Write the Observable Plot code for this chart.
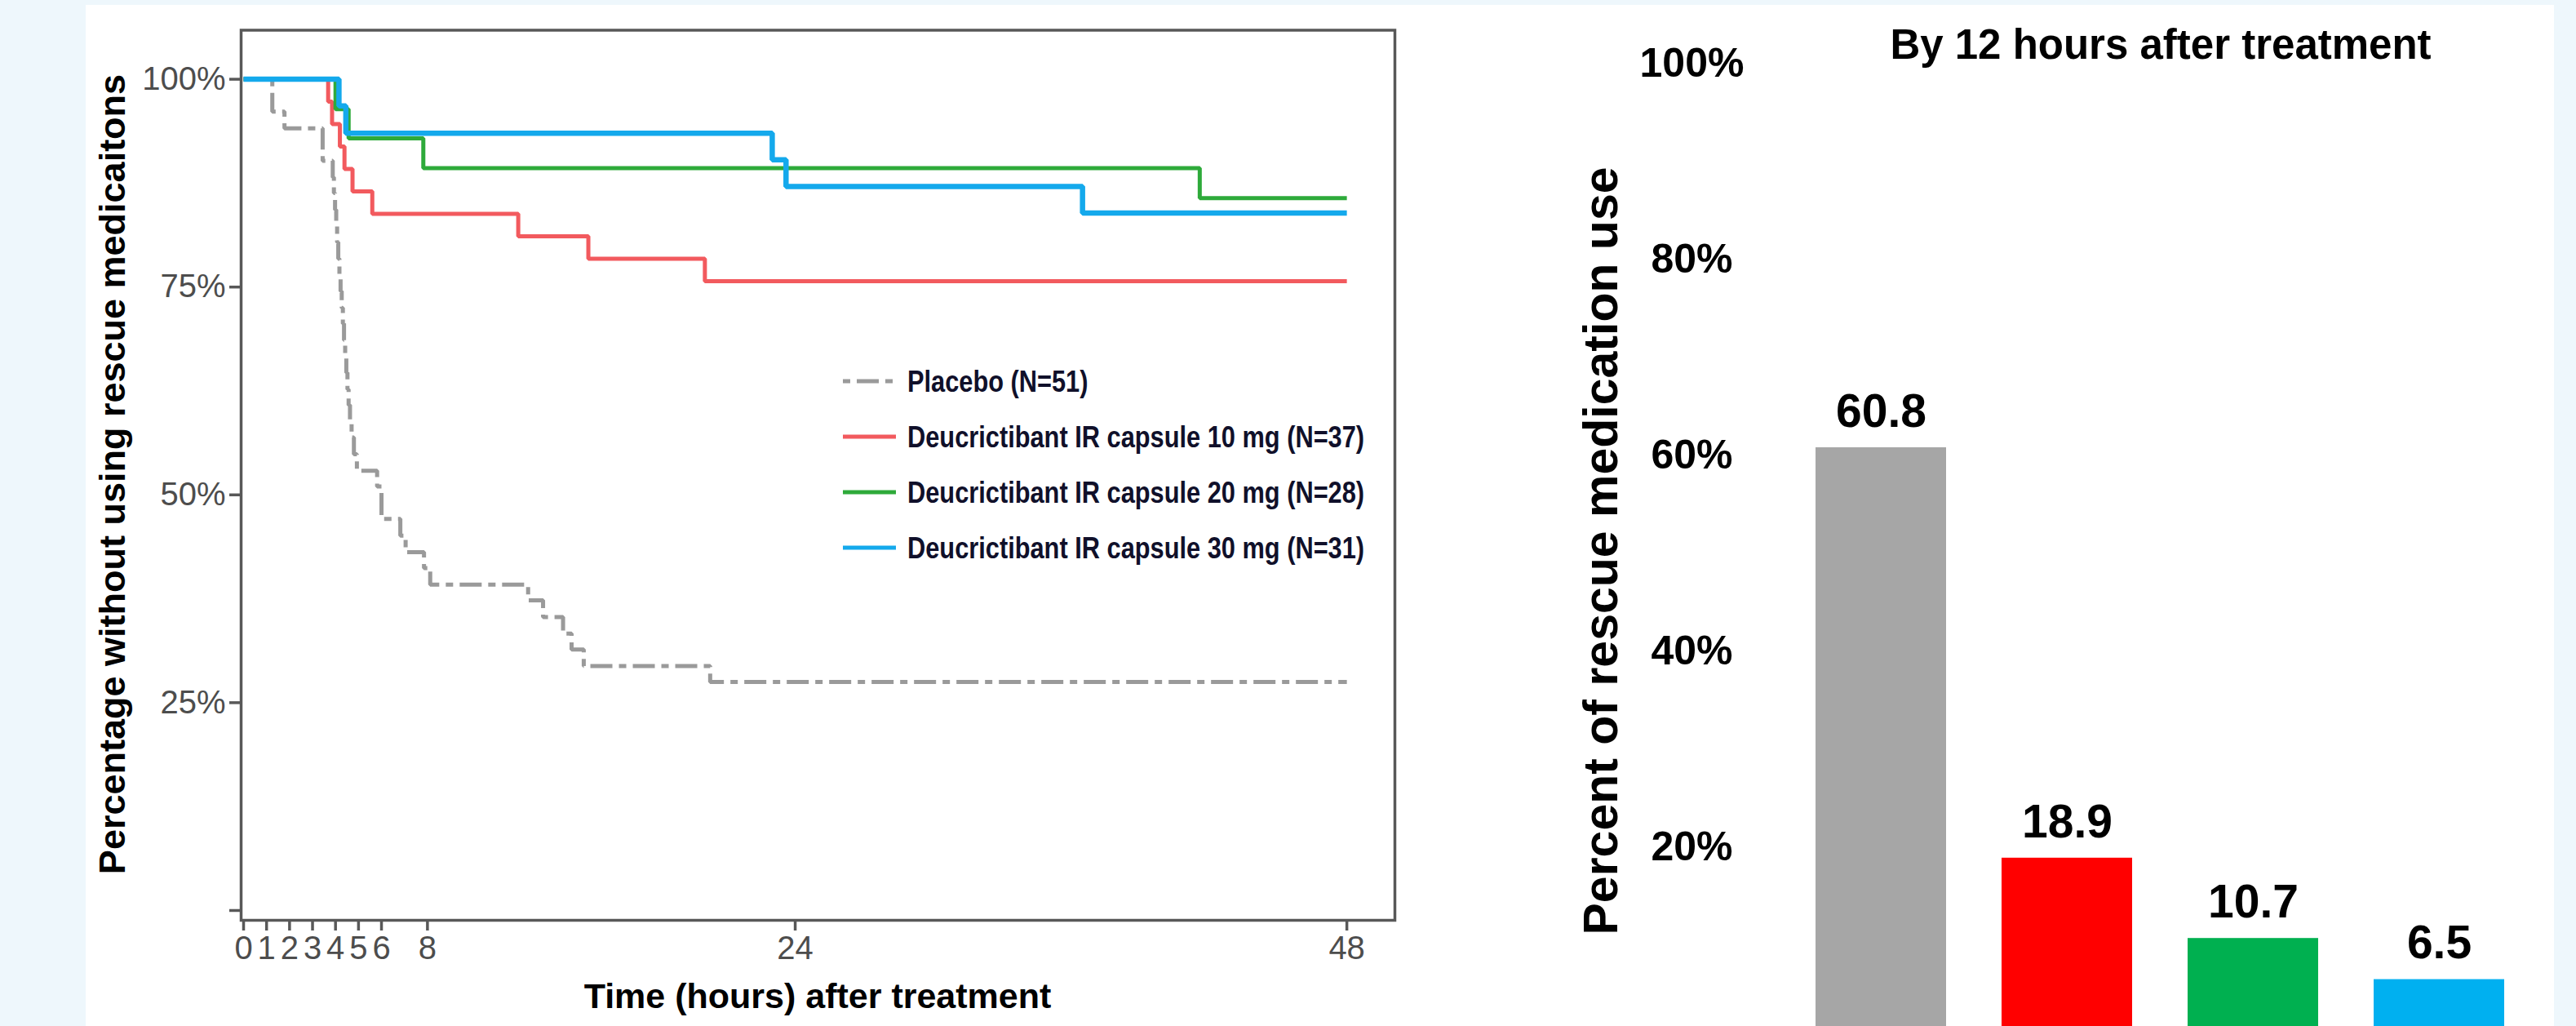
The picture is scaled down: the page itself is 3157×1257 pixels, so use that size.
<!DOCTYPE html>
<html><head><meta charset="utf-8">
<script src="https://cdn.jsdelivr.net/npm/d3@7"></script>
<script src="https://cdn.jsdelivr.net/npm/@observablehq/plot@0.6"></script>
<style>
html,body{margin:0;padding:0;overflow:hidden;background:#eef7fc;}
#page{position:relative;width:3157px;height:1257px;overflow:hidden;background:#eef7fc;}
#panel{position:absolute;left:105px;top:6px;width:3025px;height:1251px;background:#ffffff;}
.abs{position:absolute;left:0;top:0;}
svg text{font-family:"Liberation Sans",Arial,sans-serif;}
</style></head>
<body>
<div id="page">
  <div id="panel"></div>
  <div id="left" class="abs"></div>
  <div id="right" class="abs" style="left:1800px"></div>
  <svg id="overlay" class="abs" width="3157" height="1257"></svg>
</div>
<script>
// ---------- data: Kaplan-Meier steps (hours, % without rescue medication) ----------
const placeboHours = [0, 1.25, 1.78, 3.44, 3.88, 3.93, 3.98, 4.03, 4.07, 4.12, 4.17, 4.22, 4.27, 4.32, 4.37, 4.42, 4.47, 4.52, 4.57, 4.63, 4.70, 4.80, 4.93, 5.81, 6.00, 6.82, 7.05, 7.85, 8.12, 12.38, 13.03, 13.90, 14.27, 14.80, 20.30, 48];
const placeboPct   = [100, 96.1, 94.1, 90.2, 88.2, 86.3, 84.3, 82.4, 80.4, 78.4, 76.5, 74.5, 72.5, 70.6, 68.6, 66.7, 64.7, 62.7, 60.8, 58.8, 56.9, 54.9, 52.9, 51.0, 47.1, 45.1, 43.1, 41.2, 39.2, 37.3, 35.3, 33.3, 31.4, 29.4, 27.5, 27.5];
const dose10Hours = [0, 3.68, 3.85, 4.19, 4.39, 4.74, 5.60, 11.95, 15.00, 20.07, 48];
const dose10Pct   = [100, 97.3, 94.6, 91.9, 89.2, 86.5, 83.8, 81.1, 78.4, 75.7, 75.7];
const dose20Hours = [0, 4.00, 4.57, 7.82, 41.60, 48];
const dose20Pct   = [100, 96.4, 92.9, 89.3, 85.7, 85.7];
const dose30Hours = [0, 4.15, 4.45, 23.00, 23.60, 36.50, 48];
const dose30Pct   = [100, 96.8, 93.5, 90.3, 87.1, 83.9, 83.9];

const seriesNames = ["Placebo (N=51)", "Deucrictibant IR capsule 10 mg (N=37)", "Deucrictibant IR capsule 20 mg (N=28)", "Deucrictibant IR capsule 30 mg (N=31)"];
const xTickValues = [0, 1, 2, 3, 4, 5, 6, 8, 24, 48];
const yTickValues = [0, 25, 50, 75, 100];

// ---------- data: bar chart (by 12 hours) ----------
const barGroups = ["Placebo", "10 mg", "20 mg", "30 mg"];
const barValues = [60.8, 18.9, 10.7, 6.5];
const barTicks  = [0, 20, 40, 60, 80, 100];

// ---------- styles ----------
const lineColors = ["#9a9a9a", "#f25a5e", "#2eaa3a", "#14a9ec"];
const barColors  = ["#a6a6a6", "#ff0000", "#00b050", "#00b0f0"];
const dash = "27,8,9,8";
const axisGray = "#585858";
const FONT = "Liberation Sans, Arial, sans-serif";

const toRows = (hours, pct) => hours.map((h, i) => ({h, p: pct[i]}));

// ---------- left: KM curves ----------
const W1 = 1760, H1 = 1257;
const lineOpts = (i, w, extra = {}) => ({x: "h", y: "p", curve: "step-after", stroke: lineColors[i], strokeWidth: w, strokeLinejoin: "miter", strokeLinecap: "butt", ...extra});
const left = Plot.plot({
  width: W1, height: H1,
  marginLeft: 295, marginRight: W1 - 1709, marginTop: 36.5, marginBottom: H1 - 1127,
  style: {background: "transparent", fontFamily: FONT, overflow: "visible"},
  x: {domain: [-0.107, 50.09]},
  y: {domain: [-1.18, 105.9]},
  marks: [
    Plot.line(toRows(placeboHours, placeboPct), lineOpts(0, 5, {strokeDasharray: dash})),
    Plot.line(toRows(dose10Hours, dose10Pct), lineOpts(1, 5)),
    Plot.line(toRows(dose20Hours, dose20Pct), lineOpts(2, 5)),
    Plot.line(toRows(dose30Hours, dose30Pct), lineOpts(3, 6.5)),
    Plot.frame({stroke: axisGray, strokeWidth: 3.5}),
    Plot.axisY(yTickValues, {tickSize: 14, tickPadding: 5, tickFormat: d => d === 0 ? "" : d + "%", fontSize: 40, fill: "#4d4d4d", stroke: axisGray, strokeWidth: 3.5, label: null}),
    Plot.axisX(xTickValues, {tickSize: 13, tickPadding: 5.6, tickFormat: d => String(d), fontSize: 40, fill: "#4d4d4d", stroke: axisGray, strokeWidth: 3.5, label: null})
  ]
});
document.getElementById("left").appendChild(left);

// ---------- right: bars ----------
const W2 = 1357, H2 = 1300;
const barData = barGroups.map((g, i) => ({g, v: barValues[i]}));
const right = Plot.plot({
  width: W2, height: H2,
  marginLeft: 355.3, marginRight: 18.3, marginTop: 77.6, marginBottom: 22.4,
  style: {background: "transparent", fontFamily: FONT, overflow: "visible"},
  x: {domain: barGroups, padding: 0.3, axis: null},
  y: {domain: [0, 100]},
  color: {domain: barGroups, range: barColors},
  marks: [
    Plot.barY(barData, {x: "g", y: "v", fill: "g"}),
    Plot.text(barData, {x: "g", y: "v", text: d => d.v.toFixed(1), dy: -44, fontSize: 57, fontWeight: "bold", fill: "#000"}),
    Plot.axisY(barTicks, {tickSize: 0, tickPadding: 82.3, textAnchor: "middle", tickFormat: d => d + "%", fontSize: 50, fontWeight: "bold", fill: "#000", label: null})
  ]
});
document.getElementById("right").appendChild(right);

// ---------- overlay: titles and legend ----------
const ov = d3.select("#overlay");
ov.append("text").attr("transform", "translate(153,581) rotate(-90)").attr("text-anchor", "middle")
  .attr("font-size", 45).attr("font-weight", "bold").attr("fill", "#000").text("Percentage without using rescue medicaitons");
ov.append("text").attr("x", 1002).attr("y", 1235).attr("text-anchor", "middle")
  .attr("font-size", 43).attr("font-weight", "bold").attr("fill", "#000").text("Time (hours) after treatment");
ov.append("text").attr("transform", "translate(1982,675) rotate(-90)").attr("text-anchor", "middle")
  .attr("font-size", 59).attr("font-weight", "bold").attr("fill", "#000").text("Percent of rescue medication use");
ov.append("text").attr("x", 2648).attr("y", 72).attr("text-anchor", "middle")
  .attr("font-size", 51).attr("font-weight", "bold").attr("fill", "#000").text("By 12 hours after treatment");

const legendY0 = 467, legendStep = 68;
seriesNames.forEach((name, i) => {
  const y = legendY0 + i * legendStep;
  ov.append("line").attr("x1", 1033).attr("x2", 1098).attr("y1", y).attr("y2", y)
    .attr("stroke", lineColors[i]).attr("stroke-width", 5)
    .attr("stroke-dasharray", i === 0 ? "9,8,27,8" : null);
  ov.append("g").attr("transform", `translate(1112,${y + 13}) scale(0.855,1)`)
    .append("text").attr("font-size", 36).attr("font-weight", "bold").attr("fill", "#10102a").text(name);
});
</script>
</body></html>
